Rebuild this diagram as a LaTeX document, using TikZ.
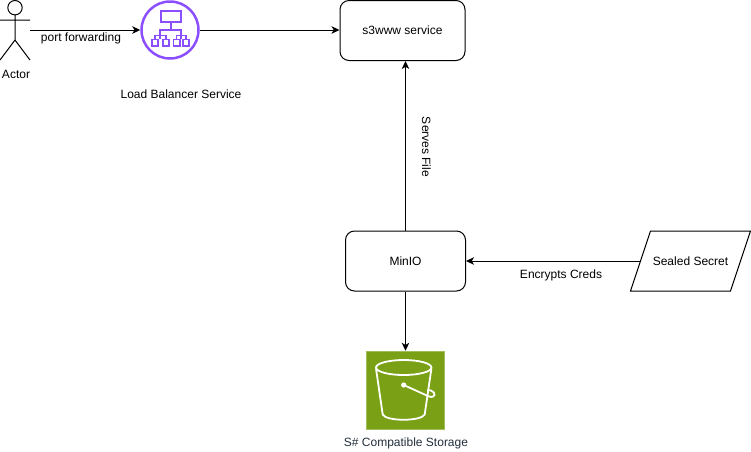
\documentclass[tikz,border=0pt]{standalone}
\usepackage{fontspec}
\setmainfont{Liberation Sans}
\usetikzlibrary{arrows.meta}
\definecolor{lbpurple}{HTML}{8C4FFF}
\definecolor{s3green}{HTML}{7AA116}
\definecolor{awsink}{HTML}{232F3E}
\tikzset{
  px/.style={x=1pt,y=-1pt},
  boxnode/.style={draw=black,line width=1pt,rounded corners=9pt,minimum width=120pt,minimum height=60pt,inner sep=0pt,font=\fontsize{12}{14}\selectfont},
  lbl/.style={inner sep=0pt,font=\fontsize{12}{14}\selectfont},
  conn/.style={draw=black,line width=1pt,-{Stealth[length=8pt,width=7.5pt,inset=2.2pt]}},
  stick/.style={draw=black,line width=1pt},
  lbicon/.style={draw=lbpurple,line width=2pt},
  bucket/.style={draw=white,line width=1.8pt},
}
\begin{document}
\begin{tikzpicture}[px]
\useasboundingbox (0,0) rectangle (751,451);
% actor
\coordinate (actorhand) at (30,30);
\draw[stick] (15,7.7) circle (7.2);
\draw[stick] (15,15) -- (15,40) (0,20) -- (30,20) (0,60) -- (15,40) -- (30,60);
\node[lbl] (actorlabel) at (16,74.5) {Actor};
% load balancer
\node[circle,draw=lbpurple,line width=2.5pt,minimum size=57pt,inner sep=0pt] (lb) at (170,30) {};
\draw[lbicon] (160.5,11) rectangle (180.5,22);
\draw[lbicon] (170.5,22) -- (170.5,30) (159.5,38.5) -- (159.5,30) -- (180.5,30) -- (180.5,38.5);
\draw[lbicon,line width=1.5pt] (155,39) -- (155,35.5) -- (166,35.5) -- (166,39) (176.5,39) -- (176.5,35.5) -- (186,35.5) -- (186,39);
\draw[lbicon,line width=1.8pt] (152,39.5) rectangle (158,46) (163,39.5) rectangle (169,46) (173.5,39.5) rectangle (180,46) (183,39.5) rectangle (189,46);
\node[lbl] (lblabel) at (181,94.5) {Load Balancer Service};
% boxes
\node[boxnode,minimum width=125pt] (s3www) at (402.5,30.5) {s3www service};
\node[boxnode] (minio) at (405.5,261) {MinIO};
% sealed secret
\draw[stick] (650.5,231) -- (750.5,231) -- (730.5,291) -- (630.5,291) -- cycle;
\node[lbl,minimum width=101pt,minimum height=60pt] (sealed) at (690.5,261) {Sealed Secret};
% storage
\node[fill=s3green,draw=s3green!70!white,line width=.5pt,minimum size=78pt,inner sep=0pt] (storage) at (405.5,390) {};
\draw[bucket] (403.7,367.5) ellipse (27.7 and 7.5);
\draw[bucket] (376,368.5) -- (382.7,414.5) .. controls (386,421.5) and (421,421.5) .. (424.7,414.5) -- (431.4,368.5);
\fill[white] (403.7,385) circle (2.6);
\draw[bucket] (403.7,385) -- (429,396.5) .. controls (436,398.5) and (436,392) .. (431,390.5) .. controls (429.5,390) and (428,390) .. (427,390.5);
\node[lbl,text=awsink] (storagelabel) at (406,443.5) {S\# Compatible Storage};
% connectors
\draw[conn] (actorhand) -- (lb.west);
\draw[conn] (lb.east) -- (s3www.west |- lb.east);
\draw[conn] (minio.north) -- (minio.north |- s3www.south);
\draw[conn] (sealed.west) -- (minio.east);
\draw[conn] (minio.south) -- (storage.north);
% connector labels
\node[lbl] (portlabel) at (81,38) {port forwarding};
\node[lbl,rotate=-90] (serveslabel) at (426.5,147) {Serves File};
\node[lbl] (credslabel) at (561,275) {Encrypts Creds};
\end{tikzpicture}
\end{document}
